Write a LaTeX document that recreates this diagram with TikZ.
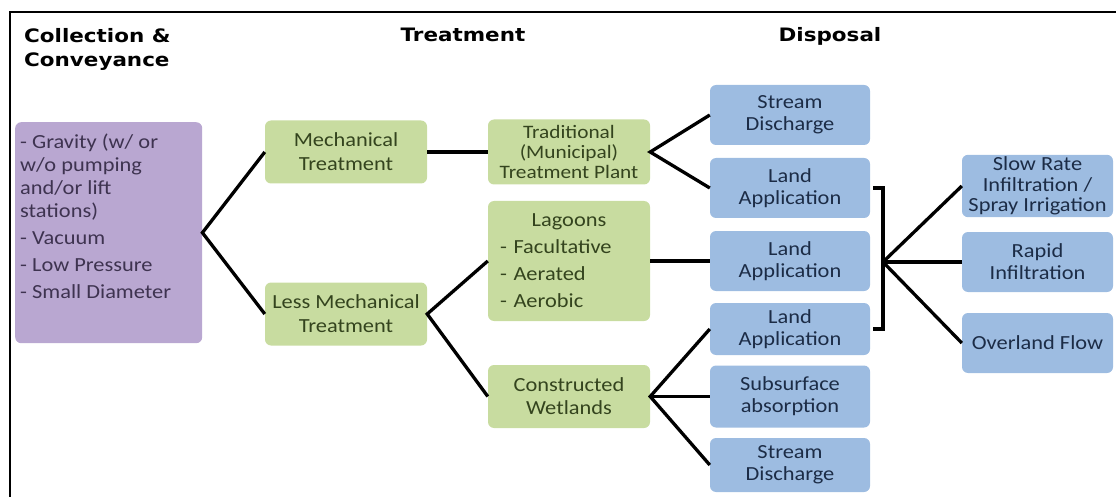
\documentclass[tikz,border=0pt]{standalone}
\usepackage{fontspec}
\setmainfont{Carlito}
\newfontfamily\boxfont[FakeStretch=1.12]{Carlito}
\newfontfamily\headfont[FakeStretch=1.16]{DejaVu Sans}

\definecolor{collpurple}{HTML}{B9A7D1}
\definecolor{colltext}{HTML}{3E3350}
\definecolor{treatgreen}{HTML}{C8DCA0}
\definecolor{treattext}{HTML}{34441E}
\definecolor{dispblue}{HTML}{9DBCE1}
\definecolor{disptext}{HTML}{1C2C46}

\tikzset{
  box/.style={rounded corners=6pt, align=center, inner sep=2pt,
    font=\boxfont\fontsize{20}{22}\selectfont},
  purplebox/.style={box, fill=collpurple, text=colltext},
  greenbox/.style={box, fill=treatgreen, text=treattext, minimum width=162pt, minimum height=63pt},
  bluebox/.style={box, fill=dispblue, text=disptext, minimum width=160pt, minimum height=60pt},
  sidebox/.style={box, fill=dispblue, text=disptext, minimum width=151pt, minimum height=60pt},
  heading/.style={font=\headfont\bfseries\fontsize{18.5}{24}\selectfont, inner sep=0pt},
  link/.style={line width=3.3pt}
}

\begin{document}
\begin{tikzpicture}[x=1pt, y=-1pt]

    \useasboundingbox (0,0) rectangle (1116,497);
    \draw[line width=1.6pt] (10,497) -- (10,12) -- (1116,12);

    \node[heading, anchor=north west, align=left] (collhd) at (24,28) {Collection \&\\Conveyance};
    \node[heading, anchor=base] (treathd) at (463,42) {Treatment};
    \node[heading, anchor=base] (disphd) at (830,42) {Disposal};

    \node[purplebox, anchor=north west, inner xsep=5pt, inner ysep=12pt, font=\boxfont\fontsize{20}{23}\selectfont] (coll) at (15,122)
      {\parbox[t][197pt][t]{177pt}{\raggedright
        - Gravity (w/ or\\ w/o pumping\\ and/or lift\\ stations)\\[4pt]
        - Vacuum\\[4pt] - Low Pressure\\[4pt] - Small Diameter}};

    \node[greenbox, font=\boxfont\fontsize{20}{24}\selectfont] (mech) at (346,152) {Mechanical\\Treatment};
    \node[greenbox, font=\boxfont\fontsize{20}{24}\selectfont] (lessmech) at (346,314) {Less Mechanical\\Treatment};

    \node[greenbox, minimum height=65pt, font=\boxfont\fontsize{19}{20}\selectfont] (trad) at (569,152) {Traditional\\(Municipal)\\Treatment Plant};
    \node[greenbox, minimum height=120pt, text width=138pt, align=left,
      font=\boxfont\fontsize{20}{27}\selectfont] (lag) at (569,261)
      {{\centering Lagoons\par}- Facultative\\- Aerated\\- Aerobic};
    \node[greenbox, font=\boxfont\fontsize{20}{23}\selectfont] (wet) at (569,396.5) {Constructed\\Wetlands};

    \node[bluebox] (sdA) at (790,115) {Stream\\Discharge};
    \node[bluebox] (laA) at (790,188) {Land\\Application};
    \node[bluebox] (laB) at (790,261) {Land\\Application};
    \node[bluebox, minimum height=52pt] (laC) at (790,329) {Land\\Application};
    \node[bluebox, minimum height=62pt] (sub) at (790,396.5) {Subsurface\\absorption};
    \node[bluebox, minimum height=54pt] (sdB) at (790,465) {Stream\\Discharge};

    \node[sidebox, minimum height=58pt, font=\boxfont\fontsize{20}{20.5}\selectfont] (slow) at (1037.5,186) {Slow Rate\\Infiltration /\\Spray Irrigation};
    \node[sidebox] (rapid) at (1037.5,262) {Rapid\\Infiltration};
    \node[sidebox] (over) at (1037.5,343) {Overland Flow};

    \draw[link] (mech.west) -- (coll.east) -- (lessmech.west);
    \draw[link] (mech) -- (trad);
    \draw[link] (lag.west) -- (lessmech.east) -- (wet.west);

    \draw[link] (sdA.west) -- (trad.east) -- (laA.west);
    \draw[link] (lag) -- (laB);
    \draw[link] (laC.west) -- (wet.east) -- (sdB.west);
    \draw[link] (wet) -- (sub);

    \coordinate (brk) at (883,262);
    \draw[link] ([xshift=3pt]laA.east) -| (brk) |- ([xshift=3pt]laC.east);
    \draw[link] (brk) -- (slow.west);
    \draw[link] (brk) -- (rapid.west);
    \draw[link] (brk) -- (over.west);

\end{tikzpicture}
\end{document}
